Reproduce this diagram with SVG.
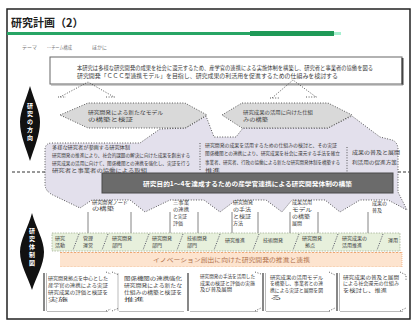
<svg xmlns="http://www.w3.org/2000/svg" width="417" height="322" viewBox="0 0 417 322">
<style>
text{font-family:"Noto Sans CJK JP","Noto Sans",sans-serif;fill:#3a3a3a}
.t{font-size:5.5px}
.s{font-size:5px}
.w{fill:#fff;font-weight:bold}
.dot{fill:none;stroke:#444;stroke-width:0.9;stroke-dasharray:1 1.6}
.hex{fill:#d9d9d9;stroke:#444;stroke-width:0.9;stroke-dasharray:1 1.6}
.vl{stroke:#666;stroke-width:0.8}
.sep{stroke:#556;stroke-width:0.9;stroke-dasharray:1.2 1.2}
.dash{stroke:#333;stroke-width:1;stroke-dasharray:3 2}
.box{fill:#fff}
.bl{stroke:#555;stroke-width:1.4}
.bb{stroke:#aaa;stroke-width:0.8}
.dia{fill:#111}
</style>
<rect width="417" height="322" fill="#fff"/>
<rect x="7" y="9" width="403" height="310" fill="none" stroke="#222" stroke-width="1.5"/>

<g id="title">
<text x="11" y="27" style="font-size:11px;font-weight:bold;fill:#222">研究計画（2）</text>
<rect x="7" y="32" width="243" height="3" fill="#27a565"/>
<rect x="250" y="31" width="84" height="5" fill="#1f9a57"/>
<rect x="334" y="32" width="7" height="3" fill="#a6f0d0"/>
</g>

<g id="subheader">
<text x="22" y="49" class="s" style="fill:#777">テーマ</text>
<text x="47" y="49" class="s" style="fill:#777" textLength="25" lengthAdjust="spacingAndGlyphs">…チーム構成</text>
<text x="92" y="49" class="s" style="fill:#777">ほかに</text>
</g>

<g id="purpose">
<rect x="50" y="57" width="352" height="27" fill="#fff" stroke="#666" stroke-width="1"/>
<line x1="402.5" y1="58" x2="402.5" y2="85" stroke="#444" stroke-width="2"/>
<line x1="51" y1="85" x2="403" y2="85" stroke="#999" stroke-width="1"/>
<text x="77" y="70" class="t" textLength="296" lengthAdjust="spacingAndGlyphs">本研究は多様な研究開発の成果を社会に還元するため、産学官の連携による実施体制を構築し、研究者と事業者の協働を図る</text>
<text x="77" y="78" class="t" textLength="261" lengthAdjust="spacingAndGlyphs">研究開発「ＣＣＣ型連携モデル」を目指し、研究成果の利活用を促進するための仕組みを検討する</text>
</g>

<g id="label-top">
<path class="dia" d="M30,86 C34,100 40,111 40,122 C40,135 34,148 30,161 C26,148 20,135 20,122 C20,111 26,100 30,86 Z"/>
<text class="w" style="font-size:6px" x="27" y="108">研</text>
<text class="w" style="font-size:6px" x="27" y="116">究</text>
<text class="w" style="font-size:6px" x="27" y="124">の</text>
<text class="w" style="font-size:6px" x="27" y="132">方</text>
<text class="w" style="font-size:6px" x="27" y="140">向</text>
</g>

<g id="label-bottom">
<path class="dia" d="M32,213 C36,228 44,240 44,252 C44,265 36,277 32,290 C28,277 20,265 20,252 C20,240 28,228 32,213 Z"/>
<text class="w" style="font-size:6px" x="29" y="233">研</text>
<text class="w" style="font-size:6px" x="29" y="241">究</text>
<text class="w" style="font-size:6px" x="29" y="249">体</text>
<text class="w" style="font-size:6px" x="29" y="257">制</text>
<text class="w" style="font-size:6px" x="29" y="265">図</text>
</g>

<g id="connectors">
<path class="dot" d="M60,97 L88,82 L114,97"/>
<line x1="58" y1="97" x2="66" y2="97" class="dot"/>
<line x1="106" y1="97" x2="115" y2="97" class="dot"/>
<path class="dot" d="M272,98 L293,80 L316,97"/>
<line x1="270" y1="98" x2="280" y2="98" class="dot"/>
<line x1="306" y1="97" x2="317" y2="97" class="dot"/>
<line x1="12" y1="172" x2="48" y2="172" class="dash"/>
<line x1="398" y1="172" x2="409" y2="172" class="dash"/>
<line x1="88" y1="212" x2="88" y2="234" class="vl"/>
<line x1="131" y1="212" x2="131" y2="234" class="vl"/>
<line x1="170" y1="212" x2="170" y2="234" class="vl"/>
<line x1="198" y1="212" x2="198" y2="234" class="vl"/>
<line x1="232" y1="212" x2="232" y2="234" class="vl"/>
<line x1="258" y1="212" x2="258" y2="234" class="vl"/>
<line x1="290" y1="212" x2="290" y2="234" class="vl"/>
<line x1="318" y1="212" x2="318" y2="234" class="vl"/>
<line x1="368" y1="212" x2="368" y2="234" class="vl"/>
</g>

<g id="cloud">
<path d="M52,143 L140,143 L160,129 L186,128 L206,116 L214,137 L236,137 L243,128 L328,128 L352,116 L380,137 L392,140 Q398,142 398,150 L398,192 L407,210 L388,200 L360,200 L340,212 L325,200 L292,200 L282,212 L266,200 L236,200 L220,212 L204,200 L170,200 L145,212 L130,200 L92,200 L80,208 L55,196 Q45,192 45,184 L45,150 Q45,143 52,143 Z" fill="#e3e0ec" stroke="#444" stroke-width="0.9" stroke-dasharray="1 1.6"/>
<line x1="200" y1="143" x2="200" y2="171" class="dot"/>
<line x1="347" y1="147" x2="347" y2="172" class="dot"/>
<text x="52" y="149" class="s" textLength="78" lengthAdjust="spacingAndGlyphs">多様な研究者が参画する研究体制</text>
<text x="52" y="157" class="s" textLength="138" lengthAdjust="spacingAndGlyphs">研究開発の推進により、社会的課題の解決に向けた成果を創出する</text>
<text x="52" y="165" class="s" textLength="138" lengthAdjust="spacingAndGlyphs">研究成果の活用に向けて、関係機関との連携を強化し、実証を行う</text>
<text x="52" y="172" class="s" textLength="95" lengthAdjust="spacingAndGlyphs">研究者と事業者の協働による取組</text>
<text x="205" y="147" class="s" textLength="132" lengthAdjust="spacingAndGlyphs">研究開発の成果を活用するための仕組みの検討と、その実証</text>
<text x="205" y="155" class="s" textLength="135" lengthAdjust="spacingAndGlyphs">関係機関との連携により、研究成果を社会に還元する手法を確立</text>
<text x="205" y="164" class="s" textLength="135" lengthAdjust="spacingAndGlyphs">事業者、研究者、行政の協働による新たな研究開発体制を構築する</text>
<text x="205" y="172" class="s" textLength="15" lengthAdjust="spacingAndGlyphs">推進</text>
<text x="352" y="154" class="s" textLength="48" lengthAdjust="spacingAndGlyphs">成果の普及と展開</text>
<text x="352" y="164" class="s" textLength="45" lengthAdjust="spacingAndGlyphs">利活用の促進方策</text>
</g>

<g id="goal-left">
<polygon class="hex" points="60,115 88,103 185,103 207,115 185,128 88,128"/>
<text x="88" y="114" class="s" textLength="75" lengthAdjust="spacingAndGlyphs">研究開発による新たなモデル</text>
<text x="88" y="121" class="s" textLength="45" lengthAdjust="spacingAndGlyphs">の構築と検証</text>
</g>

<g id="goal-right">
<polygon class="hex" points="222,115 242,103 328,103 352,115 328,128 242,128"/>
<text x="243" y="114" class="s" textLength="70" lengthAdjust="spacingAndGlyphs">研究成果の活用に向けた仕組</text>
<text x="243" y="121" class="s" textLength="25" lengthAdjust="spacingAndGlyphs">みの構築</text>
</g>

<g id="band">
<rect x="102" y="173" width="291" height="20" fill="#6b6b6b" stroke="#4a4a4a" stroke-width="1"/>
<text x="143" y="186" class="w" style="font-size:6px" textLength="209" lengthAdjust="spacingAndGlyphs">研究目的1〜4を達成するための産学官連携による研究開発体制の構築</text>
</g>

<g id="tasks">
<text x="92" y="204" class="s" textLength="36" lengthAdjust="spacingAndGlyphs">研究開発ノード</text>
<text x="92" y="210" class="s" textLength="22" lengthAdjust="spacingAndGlyphs">の構築</text>
<text x="173" y="204" class="s" textLength="16" lengthAdjust="spacingAndGlyphs">三事業</text>
<text x="173" y="211" class="s" textLength="16" lengthAdjust="spacingAndGlyphs">の連携</text>
<text x="173" y="218" class="s" textLength="14" lengthAdjust="spacingAndGlyphs">と実証</text>
<text x="173" y="225" class="s" textLength="10" lengthAdjust="spacingAndGlyphs">評価</text>
<text x="233" y="204" class="s" textLength="20" lengthAdjust="spacingAndGlyphs">研究開発</text>
<text x="233" y="211" class="s" textLength="18" lengthAdjust="spacingAndGlyphs">の手法</text>
<text x="233" y="218" class="s" textLength="18" lengthAdjust="spacingAndGlyphs">と検証</text>
<text x="233" y="225" class="s" textLength="10" lengthAdjust="spacingAndGlyphs">方法</text>
<text x="292" y="204" class="s" textLength="20" lengthAdjust="spacingAndGlyphs">成果活用</text>
<text x="292" y="211" class="s" textLength="20" lengthAdjust="spacingAndGlyphs">モデル</text>
<text x="292" y="218" class="s" textLength="18" lengthAdjust="spacingAndGlyphs">の構築</text>
<text x="292" y="225" class="s" textLength="10" lengthAdjust="spacingAndGlyphs">展開</text>
<text x="372" y="205" class="s" textLength="15" lengthAdjust="spacingAndGlyphs">成果の</text>
<text x="372" y="212" class="s" textLength="10" lengthAdjust="spacingAndGlyphs">普及</text>
</g>

<g id="units">
<rect x="52" y="233" width="348" height="18" fill="#e7f0dc" stroke="#9aa88a" stroke-width="0.7" stroke-dasharray="1.5 1.2"/>
<line x1="79" y1="234" x2="73" y2="250" class="sep"/>
<line x1="108" y1="234" x2="102" y2="250" class="sep"/>
<line x1="149" y1="234" x2="143" y2="250" class="sep"/>
<line x1="183" y1="234" x2="177" y2="250" class="sep"/>
<line x1="220" y1="234" x2="214" y2="250" class="sep"/>
<line x1="259" y1="234" x2="253" y2="250" class="sep"/>
<line x1="299" y1="234" x2="293" y2="250" class="sep"/>
<line x1="338" y1="234" x2="332" y2="250" class="sep"/>
<line x1="383" y1="234" x2="377" y2="250" class="sep"/>
<text x="55" y="240" class="s">研究</text><text x="55" y="247" class="s">活動</text>
<text x="83" y="240" class="s">管理</text><text x="83" y="247" class="s">運営</text>
<text x="112" y="240" class="s">研究開発</text><text x="112" y="247" class="s">部門</text>
<text x="152" y="240" class="s">研究開発</text><text x="152" y="247" class="s">部門</text>
<text x="187" y="240" class="s">技術開発</text><text x="187" y="247" class="s">部門</text>
<text x="225" y="242" class="s">研究推進</text>
<text x="263" y="242" class="s">技術開発</text>
<text x="302" y="240" class="s">研究開発</text><text x="305" y="247" class="s">拠点</text>
<text x="342" y="240" class="s">研究成果の</text><text x="342" y="247" class="s">活用推進</text>
<text x="388" y="242" class="s">運用</text>
</g>

<g id="innovation">
<rect x="60" y="252" width="342" height="15" fill="#fde4cf"/>
<line x1="60" y1="252.5" x2="402" y2="252.5" stroke="#e8965c" stroke-width="0.8" stroke-dasharray="2 1.5"/>
<line x1="60" y1="266.5" x2="402" y2="266.5" stroke="#f4c8a4" stroke-width="0.6" stroke-dasharray="2 1.5"/>
<line x1="402" y1="252" x2="402" y2="267" stroke="#e8965c" stroke-width="0.6" stroke-dasharray="1 1"/>
<text x="153" y="262" class="t" style="fill:#b0704a" textLength="157" lengthAdjust="spacingAndGlyphs">イノベーション創出に向けた研究開発の推進と連携</text>
</g>

<g id="box1">
<rect class="box" x="43" y="272" width="68" height="40"/>
<line x1="44" y1="273" x2="44" y2="311" class="bl"/><line x1="46.5" y1="273" x2="46.5" y2="311" class="bb"/>
<line x1="47" y1="311.5" x2="108" y2="311.5" class="bb"/>
<path class="dot" d="M106,272 L111,274 M106,311 L111,309"/>
<text x="48" y="280" class="s" textLength="60" lengthAdjust="spacingAndGlyphs">研究開発拠点を中心とした</text>
<text x="48" y="287" class="s" textLength="60" lengthAdjust="spacingAndGlyphs">産学官の連携による実証</text>
<text x="48" y="294" class="s" textLength="60" lengthAdjust="spacingAndGlyphs">研究成果の評価と検証を</text>
<text x="48" y="301" class="s" textLength="20" lengthAdjust="spacingAndGlyphs">実施</text>
</g>

<g id="box2">
<rect class="box" x="117" y="272" width="70" height="40"/>
<line x1="118" y1="273" x2="118" y2="311" class="bb"/>
<line x1="119" y1="311.5" x2="184" y2="311.5" class="bb"/>
<path class="dot" d="M112,272 L119,275 M112,311 L119,308"/>
<text x="124" y="280" class="s" textLength="58" lengthAdjust="spacingAndGlyphs">関係機関の連携強化</text>
<text x="124" y="287" class="s" textLength="58" lengthAdjust="spacingAndGlyphs">研究開発による新たな</text>
<text x="124" y="294" class="s" textLength="58" lengthAdjust="spacingAndGlyphs">仕組みの構築と検証を</text>
<text x="124" y="301" class="s" textLength="20" lengthAdjust="spacingAndGlyphs">推進</text>
</g>

<g id="box3">
<rect class="box" x="188" y="272" width="73" height="40"/>
<line x1="188" y1="273" x2="188" y2="311" class="bl"/>
<line x1="190" y1="311.5" x2="258" y2="311.5" class="bb"/>
<path class="dot" d="M255,272 L261,274 M255,311 L261,308"/>
<text x="200" y="278" class="s" textLength="55" lengthAdjust="spacingAndGlyphs">研究開発の手法を活用した</text>
<text x="200" y="285" class="s" textLength="55" lengthAdjust="spacingAndGlyphs">成果の検証と評価の実施</text>
<text x="200" y="291" class="s" textLength="32" lengthAdjust="spacingAndGlyphs">及び普及展開</text>
</g>

<g id="box4">
<rect class="box" x="263" y="272" width="72" height="40"/>
<line x1="263" y1="273" x2="263" y2="311" class="bl"/><line x1="265.5" y1="273" x2="265.5" y2="311" class="bb"/>
<line x1="266" y1="311.5" x2="330" y2="311.5" class="bb"/>
<path class="dot" d="M329,272 L335,275 M329,311 L335,308"/>
<text x="270" y="279" class="s" textLength="53" lengthAdjust="spacingAndGlyphs">研究成果の活用モデル</text>
<text x="270" y="285" class="s" textLength="53" lengthAdjust="spacingAndGlyphs">を構築し、事業者との連</text>
<text x="270" y="292" class="s" textLength="53" lengthAdjust="spacingAndGlyphs">携による実証と展開を図</text>
<text x="270" y="299" class="s" textLength="12" lengthAdjust="spacingAndGlyphs">る</text>
</g>

<g id="box5">
<rect class="box" x="337" y="272" width="70" height="40"/>
<line x1="337" y1="273" x2="337" y2="311" class="bl"/><line x1="339.5" y1="273" x2="339.5" y2="311" class="bb"/>
<line x1="340" y1="311.5" x2="403" y2="311.5" class="bb"/>
<path class="dot" d="M400,272 L406,275 L406,280 M400,311 L406,308"/>
<text x="343" y="279" class="s" textLength="56" lengthAdjust="spacingAndGlyphs">研究成果の普及と展開</text>
<text x="343" y="285" class="s" textLength="56" lengthAdjust="spacingAndGlyphs">による社会還元の仕組み</text>
<text x="343" y="292" class="s" textLength="44" lengthAdjust="spacingAndGlyphs">を検討し、推進</text>
</g>
</svg>
